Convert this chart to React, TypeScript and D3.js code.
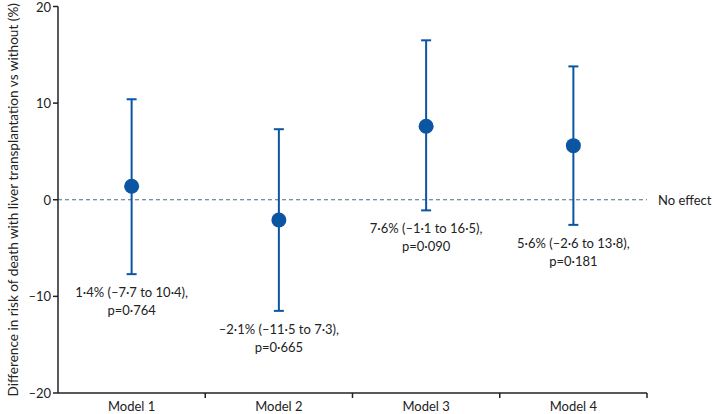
import React from "react";
import * as d3 from "d3";

const categories = ["Model 1", "Model 2", "Model 3", "Model 4"];
const estimates = [1.4, -2.1, 7.6, 5.6];
const lowers = [-7.7, -11.5, -1.1, -2.6];
const uppers = [10.4, 7.3, 16.5, 13.8];
const pValues = ["0·764", "0·665", "0·090", "0·181"];
const yTicks = [-20, -10, 0, 10, 20];

const W = 713;
const H = 414;
const left = 58;
const right = 647;
const top = 6.5;
const bottom = 393;
const BLUE = "#0b55a3";
const FONT = "Lato, 'Open Sans', sans-serif";

const fmt = (v: number) => {
  const s = Math.abs(v).toFixed(1).replace(".", "·");
  return (v < 0 ? "–" : "") + s;
};

export default function App() {
  const x = d3.scaleBand<string>().domain(categories).range([left, right]).padding(0);
  const y = d3.scaleLinear().domain([-20, 20]).range([bottom, top]);
  const bw = x.bandwidth();
  const capW = 5;

  return (
    <svg width={W} height={H} style={{ position: "absolute", left: 0, top: 0, background: "#fff" }}>
      {/* y-axis title */}
      <text
        transform={`translate(13, ${(top + bottom) / 2}) rotate(-90)`}
        textAnchor="middle"
        dominantBaseline="central"
        fontFamily={FONT}
        fontSize={13.6}
        fill="#222"
      >
        Difference in risk of death with liver transplantation vs without (%)
      </text>

      {/* zero line */}
      <line x1={left} x2={right} y1={y(0)} y2={y(0)} stroke="#4f6b7d" strokeWidth={1} strokeDasharray="4,3" />
      <text x={658} y={y(0)} dominantBaseline="central" fontFamily={FONT} fontSize={13} fill="#222">
        No effect
      </text>

      {/* y axis */}
      <line x1={left} x2={left} y1={top} y2={bottom} stroke="#222" strokeWidth={1.5} />
      {yTicks.map((t) => (
        <g key={t}>
          <line x1={left - 5} x2={left} y1={y(t)} y2={y(t)} stroke="#222" strokeWidth={1.5} />
          <text
            x={left - 7}
            y={y(t)}
            textAnchor="end"
            dominantBaseline="central"
            fontFamily={FONT}
            fontSize={13}
            fill="#222"
          >
            {t < 0 ? "–" + Math.abs(t) : String(t)}
          </text>
        </g>
      ))}

      {/* x axis */}
      <line x1={left} x2={right} y1={bottom} y2={bottom} stroke="#222" strokeWidth={1.5} />
      {categories.map((c) => (
        <g key={c}>
          <line x1={(x(c) as number) + bw} x2={(x(c) as number) + bw} y1={bottom} y2={bottom + 5} stroke="#222" strokeWidth={1.5} />
          <text
            x={(x(c) as number) + bw / 2}
            y={bottom + 13}
            textAnchor="middle"
            dominantBaseline="central"
            fontFamily={FONT}
            fontSize={13}
            fill="#222"
          >
            {c}
          </text>
        </g>
      ))}

      {/* error bars and points */}
      {categories.map((c, i) => {
        const cx = (x(c) as number) + bw / 2;
        const yl = y(lowers[i]);
        const yu = y(uppers[i]);
        return (
          <g key={c}>
            <line x1={cx} x2={cx} y1={yu} y2={yl} stroke={BLUE} strokeWidth={2} />
            <line x1={cx - capW} x2={cx + capW} y1={yu} y2={yu} stroke={BLUE} strokeWidth={2} />
            <line x1={cx - capW} x2={cx + capW} y1={yl} y2={yl} stroke={BLUE} strokeWidth={2} />
            <circle cx={cx} cy={y(estimates[i])} r={7.5} fill={BLUE} />
            <text
              x={cx}
              y={yl + 18}
              textAnchor="middle"
              dominantBaseline="central"
              fontFamily={FONT}
              fontSize={13}
              fill="#222"
            >
              {`${fmt(estimates[i])}% (${fmt(lowers[i])} to ${fmt(uppers[i])}),`}
            </text>
            <text
              x={cx}
              y={yl + 36}
              textAnchor="middle"
              dominantBaseline="central"
              fontFamily={FONT}
              fontSize={13}
              fill="#222"
            >
              {`p=${pValues[i]}`}
            </text>
          </g>
        );
      })}
    </svg>
  );
}
